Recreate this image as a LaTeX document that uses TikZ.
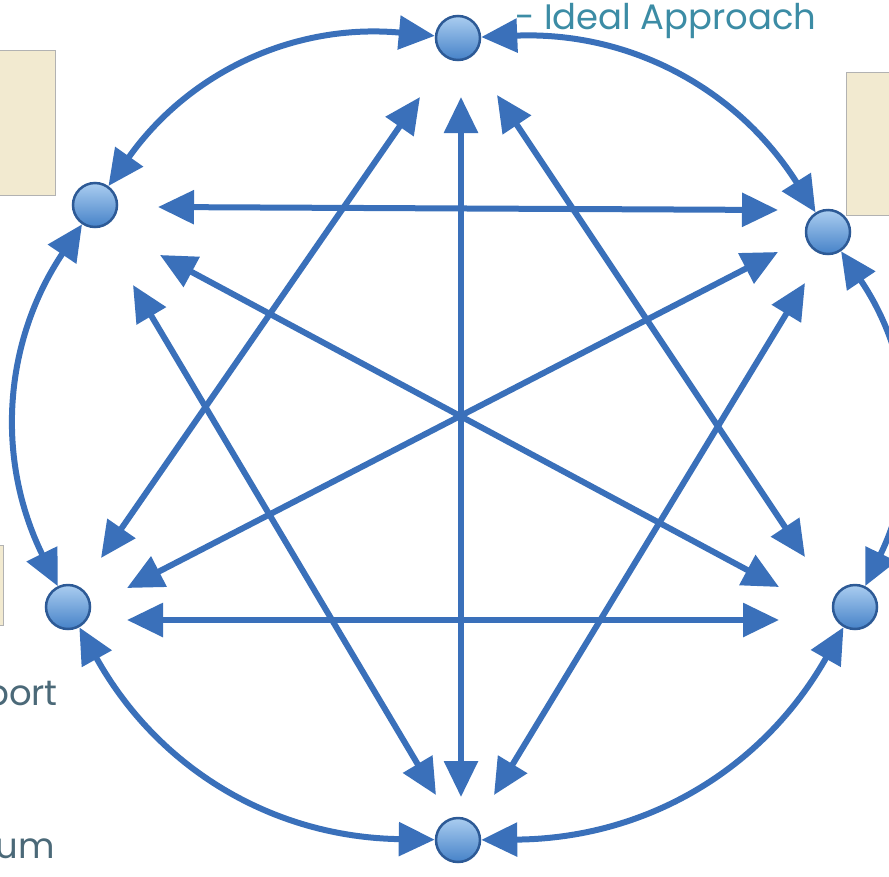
\documentclass[tikz,border=0pt]{standalone}
\usepackage{fontspec}
\setmainfont{Poppins}
\usetikzlibrary{arrows.meta,positioning}
\definecolor{linkblue}{RGB}{58,112,186}
\definecolor{hubtop}{RGB}{170,205,240}
\definecolor{hubbot}{RGB}{70,130,200}
\definecolor{ringblue}{RGB}{45,90,150}
\definecolor{notebeige}{RGB}{242,234,208}
\definecolor{labelteal}{RGB}{60,140,165}
\definecolor{labelgrey}{RGB}{75,105,120}

\begin{document}
\begin{tikzpicture}[
    x=1pt, y=-1pt,
    hub/.style={
        circle,
        draw=ringblue,
        line width=2.5pt,
        minimum size=44pt,
        inner sep=0pt,
        top color=hubtop,
        bottom color=hubbot
    },
    link/.style={
        arrows={Triangle[length=36pt,width=33pt]-Triangle[length=36pt,width=33pt]},
        line width=6pt,
        draw=linkblue
    },
    ring/.style={link, bend right=30},
    note/.style={draw=gray!60, fill=notebeige, line width=1pt},
    tag/.style={font=\fontsize{35.4}{40}\selectfont, text=labelteal, inner sep=0pt}
]
\useasboundingbox (0,0) rectangle (889,876);

% --- Side notes (cut off at the edges) ---
\draw[note] (-20,50) rectangle (55,195);
\draw[note] (846,72) rectangle (910,215);
\draw[note] (-20,545) rectangle (3,625);

% --- Hubs ---
\node[hub] (top) at (458,38) {};
\node[hub] (ul)  at (95,205) {};
\node[hub] (ur)  at (828,232) {};
\node[hub] (ll)  at (68,607) {};
\node[hub] (lr)  at (855,607) {};
\node[hub] (bot) at (458,840) {};

% --- Labels ---
\node[tag, anchor=base west] (ideal) at (515,29) {- Ideal Approach};
\node[tag, text=labelgrey, anchor=base east] (port) at (58,705) {port};
\node[tag, text=labelgrey, anchor=base east] (um) at (55,858) {um};

% --- Chord ends ---
\coordinate (tA)  at (420,97);
\coordinate (tB)  at (461,97);
\coordinate (tC)  at (497,95);
\coordinate (bA)  at (436,795);
\coordinate (bB)  at (461,797);
\coordinate (bC)  at (494,795);
\coordinate (ulA) at (158,207);
\coordinate (ulB) at (160,255);
\coordinate (ulC) at (133,285);
\coordinate (urA) at (778,210);
\coordinate (urB) at (778,252);
\coordinate (urC) at (805,283);
\coordinate (llA) at (101,558);
\coordinate (llB) at (127,588);
\coordinate (llC) at (127,620);
\coordinate (lrA) at (805,557);
\coordinate (lrB) at (779,587);
\coordinate (lrC) at (779,620);

% --- Outer ring ---
\draw[ring] (top) to (ul);
\draw[ring] (ul) to (ll);
\draw[ring] (ll) to (bot);
\draw[ring] (bot) to (lr);
\draw[ring] (lr) to (ur);
\draw[ring] (ur) to (top);

% --- Chords ---
\draw[link] (tA) -- (llA);
\draw[link] (tB) -- (bB);
\draw[link] (tC) -- (lrA);
\draw[link] (ulA) -- (urA);
\draw[link] (ulB) -- (lrB);
\draw[link] (ulC) -- (bA);
\draw[link] (urB) -- (llB);
\draw[link] (urC) -- (bC);
\draw[link] (llC) -- (lrC);

\end{tikzpicture}
\end{document}
